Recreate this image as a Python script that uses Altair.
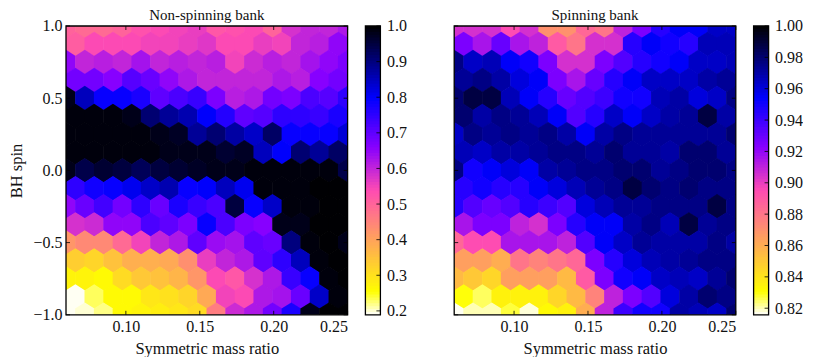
import altair as alt
import numpy as np
import pandas as pd

FONT = "Liberation Serif"
W, H = 281.6, 288.8
CB_W = 15.0
XMIN, XMAX = 0.0595, 0.25
NX = 15
YMIN, YMAX = -1.0, 1.0

# rows listed from y=1.0 (top) to y=-1.0 (bottom); alternate rows are offset half a cell
left_rows = [
    [.50,.49,.49,.50,.53,.54,.55,.56,.52,.53,.54,.50,.58,.60,.60,.62],
    [.51,.54,.54,.54,.55,.55,.56,.57,.54,.54,.56,.55,.60,.61,.65],
    [.65,.60,.61,.60,.63,.60,.61,.60,.61,.55,.59,.61,.60,.63,.65,.67],
    [.68,.68,.66,.71,.69,.65,.62,.60,.60,.60,.60,.62,.61,.66,.68],
    [.98,.85,.79,.79,.77,.70,.72,.74,.67,.61,.62,.68,.67,.72,.71,.75],
    [.99,.99,.99,.98,.91,.88,.86,.80,.76,.70,.71,.75,.75,.74,.77],
    [.99,.99,.99,.99,.99,.98,.97,.88,.91,.87,.84,.92,.79,.79,.79,.83],
    [.99,.99,.99,.99,.99,.98,.98,.98,.96,.97,.85,.80,.91,.88,.92],
    [.98,.94,.96,.95,.93,.95,.96,.97,.98,.98,.99,.99,.99,.99,.99,.94],
    [.75,.78,.79,.81,.84,.86,.79,.80,.85,.81,.99,.99,.99,1.0,1.0],
    [.65,.69,.73,.68,.75,.69,.77,.74,.72,.95,.79,.84,.99,.99,1.0,1.0],
    [.58,.59,.65,.65,.72,.70,.67,.79,.72,.67,.66,.98,.98,1.0,1.0],
    [.42,.44,.44,.49,.55,.60,.62,.70,.64,.63,.70,.69,.90,.99,1.0,.98],
    [.33,.32,.35,.38,.38,.39,.43,.56,.60,.62,.70,.75,.85,.99,1.0],
    [.27,.27,.26,.31,.34,.35,.37,.42,.54,.52,.58,.62,.74,.79,.99,1.0],
    [.19,.23,.26,.26,.29,.30,.32,.39,.55,.54,.62,.63,.69,.84,.99],
    [.19,.20,.22,.26,.27,.28,.29,.31,.46,.59,.62,.68,.77,.98,1.0,1.0],
]
right_rows = [
    [.905,.905,.905,.895,.905,.87,.87,.885,.88,.91,.925,.945,.955,.955,.964,.964],
    [.925,.915,.93,.915,.91,.89,.88,.905,.905,.945,.955,.95,.945,.967,.967],
    [.976,.964,.967,.955,.95,.925,.905,.905,.925,.935,.945,.95,.955,.964,.964,.967],
    [.973,.976,.970,.96,.955,.925,.915,.93,.945,.955,.964,.964,.964,.970,.973],
    [.98,.988,.988,.967,.955,.945,.93,.935,.94,.95,.95,.967,.970,.96,.964,.976],
    [.98,.970,.976,.973,.967,.955,.935,.945,.964,.955,.964,.970,.973,.988,.970],
    [.964,.976,.973,.976,.973,.976,.970,.955,.970,.976,.973,.973,.973,.973,.973,.98],
    [.967,.964,.970,.970,.973,.976,.976,.973,.98,.973,.973,.970,.98,.98,.973],
    [.976,.95,.955,.96,.955,.970,.973,.976,.976,.98,.98,.973,.976,.98,.98,.976],
    [.945,.95,.945,.945,.955,.96,.967,.973,.976,.988,.98,.976,.98,.976,.976],
    [.945,.935,.93,.935,.945,.94,.935,.96,.967,.973,.973,.976,.976,.976,.988,.976],
    [.915,.925,.925,.91,.905,.925,.945,.955,.955,.970,.976,.967,.988,.973,.976],
    [.885,.895,.895,.915,.915,.915,.91,.935,.955,.964,.973,.970,.970,.970,.976,.970],
    [.865,.865,.86,.88,.875,.88,.885,.925,.945,.96,.967,.970,.973,.976,.976],
    [.855,.85,.845,.865,.865,.865,.855,.89,.925,.95,.955,.964,.967,.964,.973,.98],
    [.83,.825,.835,.835,.835,.845,.855,.875,.91,.925,.935,.96,.970,.98,.976],
    [.815,.82,.82,.827,.818,.832,.835,.86,.91,.94,.95,.95,.970,.967,.964,.98],
]
x_ticks = [0.10, 0.15, 0.20, 0.25]
y_ticks = [-1.0, -0.5, 0.0, 0.5, 1.0]
left_cb_ticks = [0.2, 0.3, 0.4, 0.5, 0.6, 0.7, 0.8, 0.9, 1.0]
right_cb_ticks = [0.82, 0.84, 0.86, 0.88, 0.90, 0.92, 0.94, 0.96, 0.98, 1.00]
left_domain = [0.189, 1.0]
right_domain = [0.8158, 1.0]


def gnuplot2_r(n=256):
    x = 1 - np.linspace(0, 1, n)
    r = np.clip(x / 0.32 - 0.78125, 0, 1)
    g = np.clip(2 * x - 0.84, 0, 1)
    b = np.where(x < 0.25, 4 * x, np.where(x < 0.92, -2 * x + 1.84, x / 0.08 - 11.5))
    b = np.clip(b, 0, 1)
    return ["#%02x%02x%02x" % (int(a * 255), int(c * 255), int(d * 255)) for a, c, d in zip(r, g, b)]


CMAP = gnuplot2_r()


def hex_frame(rows):
    sx = (XMAX - XMIN) / NX
    recs = []
    for k, row in enumerate(rows):
        yv = YMAX - k * (YMAX - YMIN) / (len(rows) - 1)
        off = 0.0 if len(row) == NX + 1 else 0.5
        for i, v in enumerate(row):
            recs.append({"x": XMIN + (i + off) * sx, "y": yv, "v": v})
    return pd.DataFrame(recs)


HEX = "M0,-1L0.78,-0.5L0.78,0.5L0,1L-0.78,0.5L-0.78,-0.5Z"
HEX_SIZE = (2 * (H / 24.0) * 1.03) ** 2


def panel(rows, domain, title, show_y):
    xs = alt.Scale(domain=[XMIN, XMAX], nice=False, zero=False)
    ys = alt.Scale(domain=[YMIN, YMAX], nice=False, zero=False)
    cs = alt.Scale(domain=np.linspace(domain[0], domain[1], len(CMAP)).tolist(), range=CMAP)
    yaxis = alt.Axis(values=y_ticks, format=".1f", grid=False, domain=False, ticks=False, labelPadding=4,
                     labelOverlap=False, title="BH spin", titlePadding=8) if show_y else None
    xaxis = alt.Axis(values=x_ticks, format=".2f", grid=False, domain=False, ticks=False,
                     labelOverlap=False, labelPadding=4, title="Symmetric mass ratio", titlePadding=5.5)
    hexes = alt.Chart(hex_frame(rows)).mark_point(filled=True, shape=HEX, size=HEX_SIZE, opacity=1, clip=True).encode(
        x=alt.X("x:Q", scale=xs, axis=xaxis),
        y=alt.Y("y:Q", scale=ys, axis=yaxis),
        color=alt.Color("v:Q", scale=cs, legend=None),
    )
    xt = pd.DataFrame({"t": x_ticks})
    yt = pd.DataFrame({"t": y_ticks})
    tick = dict(color="black", strokeWidth=0.8)
    t1 = alt.Chart(xt).mark_rule(**tick).encode(x=alt.X("t:Q", scale=xs, axis=xaxis), y=alt.value(H), y2=alt.value(H - 4))
    t2 = alt.Chart(xt).mark_rule(**tick).encode(x=alt.X("t:Q", scale=xs, axis=xaxis), y=alt.value(0), y2=alt.value(4))
    t3 = alt.Chart(yt).mark_rule(**tick).encode(y=alt.Y("t:Q", scale=ys, axis=yaxis), x=alt.value(0), x2=alt.value(4))
    t4 = alt.Chart(yt).mark_rule(**tick).encode(y=alt.Y("t:Q", scale=ys, axis=yaxis), x=alt.value(W), x2=alt.value(W - 4))
    frame = alt.Chart(pd.DataFrame({"a": [0]})).mark_rect(fillOpacity=0, stroke="black", strokeWidth=1.3).encode(
        x=alt.value(0), x2=alt.value(W), y=alt.value(0), y2=alt.value(H))
    head = alt.Chart(pd.DataFrame({"label": [title]})).mark_text(
        font=FONT, fontSize=15, color="#111", align="center", baseline="alphabetic").encode(
        text="label:N", x=alt.value(W / 2), y=alt.value(-6))
    return alt.layer(hexes, t1, t2, t3, t4, frame, head).properties(width=W, height=H)


def colorbar(domain, ticks, fmt):
    lv = np.linspace(domain[0], domain[1], 101)
    step = lv[1] - lv[0]
    df = pd.DataFrame({"lo": lv[:-1], "hi": lv[:-1] + 1.6 * step, "c": (lv[:-1] + lv[1:]) / 2})
    ys = alt.Scale(domain=domain, nice=False, zero=False)
    cs = alt.Scale(domain=np.linspace(domain[0], domain[1], len(CMAP)).tolist(), range=CMAP)
    cbaxis = alt.Axis(values=ticks, format=fmt, orient="right", grid=False, domain=False,
                      labelOverlap=False, labelSeparation=0, ticks=False, labelPadding=6, title=None)
    bars = alt.Chart(df).mark_rect(clip=True).encode(
        y=alt.Y("lo:Q", scale=ys, axis=cbaxis),
        y2="hi:Q",
        x=alt.value(0), x2=alt.value(CB_W),
        color=alt.Color("c:Q", scale=cs, legend=None),
    )
    tk = alt.Chart(pd.DataFrame({"t": ticks})).mark_rule(color="black", strokeWidth=0.8).encode(
        y=alt.Y("t:Q", scale=ys, axis=cbaxis), x=alt.value(CB_W), x2=alt.value(CB_W - 4))
    frame = alt.Chart(pd.DataFrame({"a": [0]})).mark_rect(fillOpacity=0, stroke="black", strokeWidth=1.3).encode(
        x=alt.value(0), x2=alt.value(CB_W), y=alt.value(0), y2=alt.value(H))
    return alt.layer(bars, tk, frame).properties(width=CB_W, height=H)


a = panel(left_rows, left_domain, "Non-spinning bank", True)
ca = colorbar(left_domain, left_cb_ticks, ".1f")
b = panel(right_rows, right_domain, "Spinning bank", False)
cb = colorbar(right_domain, right_cb_ticks, ".2f")
spacer = alt.Chart(pd.DataFrame({"a": [0]})).mark_point(opacity=0).encode(
    x=alt.value(0), y=alt.value(0)).properties(width=38.5, height=H)

chart = alt.hconcat(a, ca, spacer, b, cb, spacing=17.4, bounds="flush").resolve_scale(
    color="independent"
).properties(padding=0).configure_view(
    stroke=None
).configure_axis(
    labelFont=FONT, titleFont=FONT, labelFontSize=16, titleFontSize=16.5, labelColor="#111", titleColor="#111",
    titleFontWeight="normal",
)

chart.save("out.html", embed_options={"renderer": "svg", "actions": False})
